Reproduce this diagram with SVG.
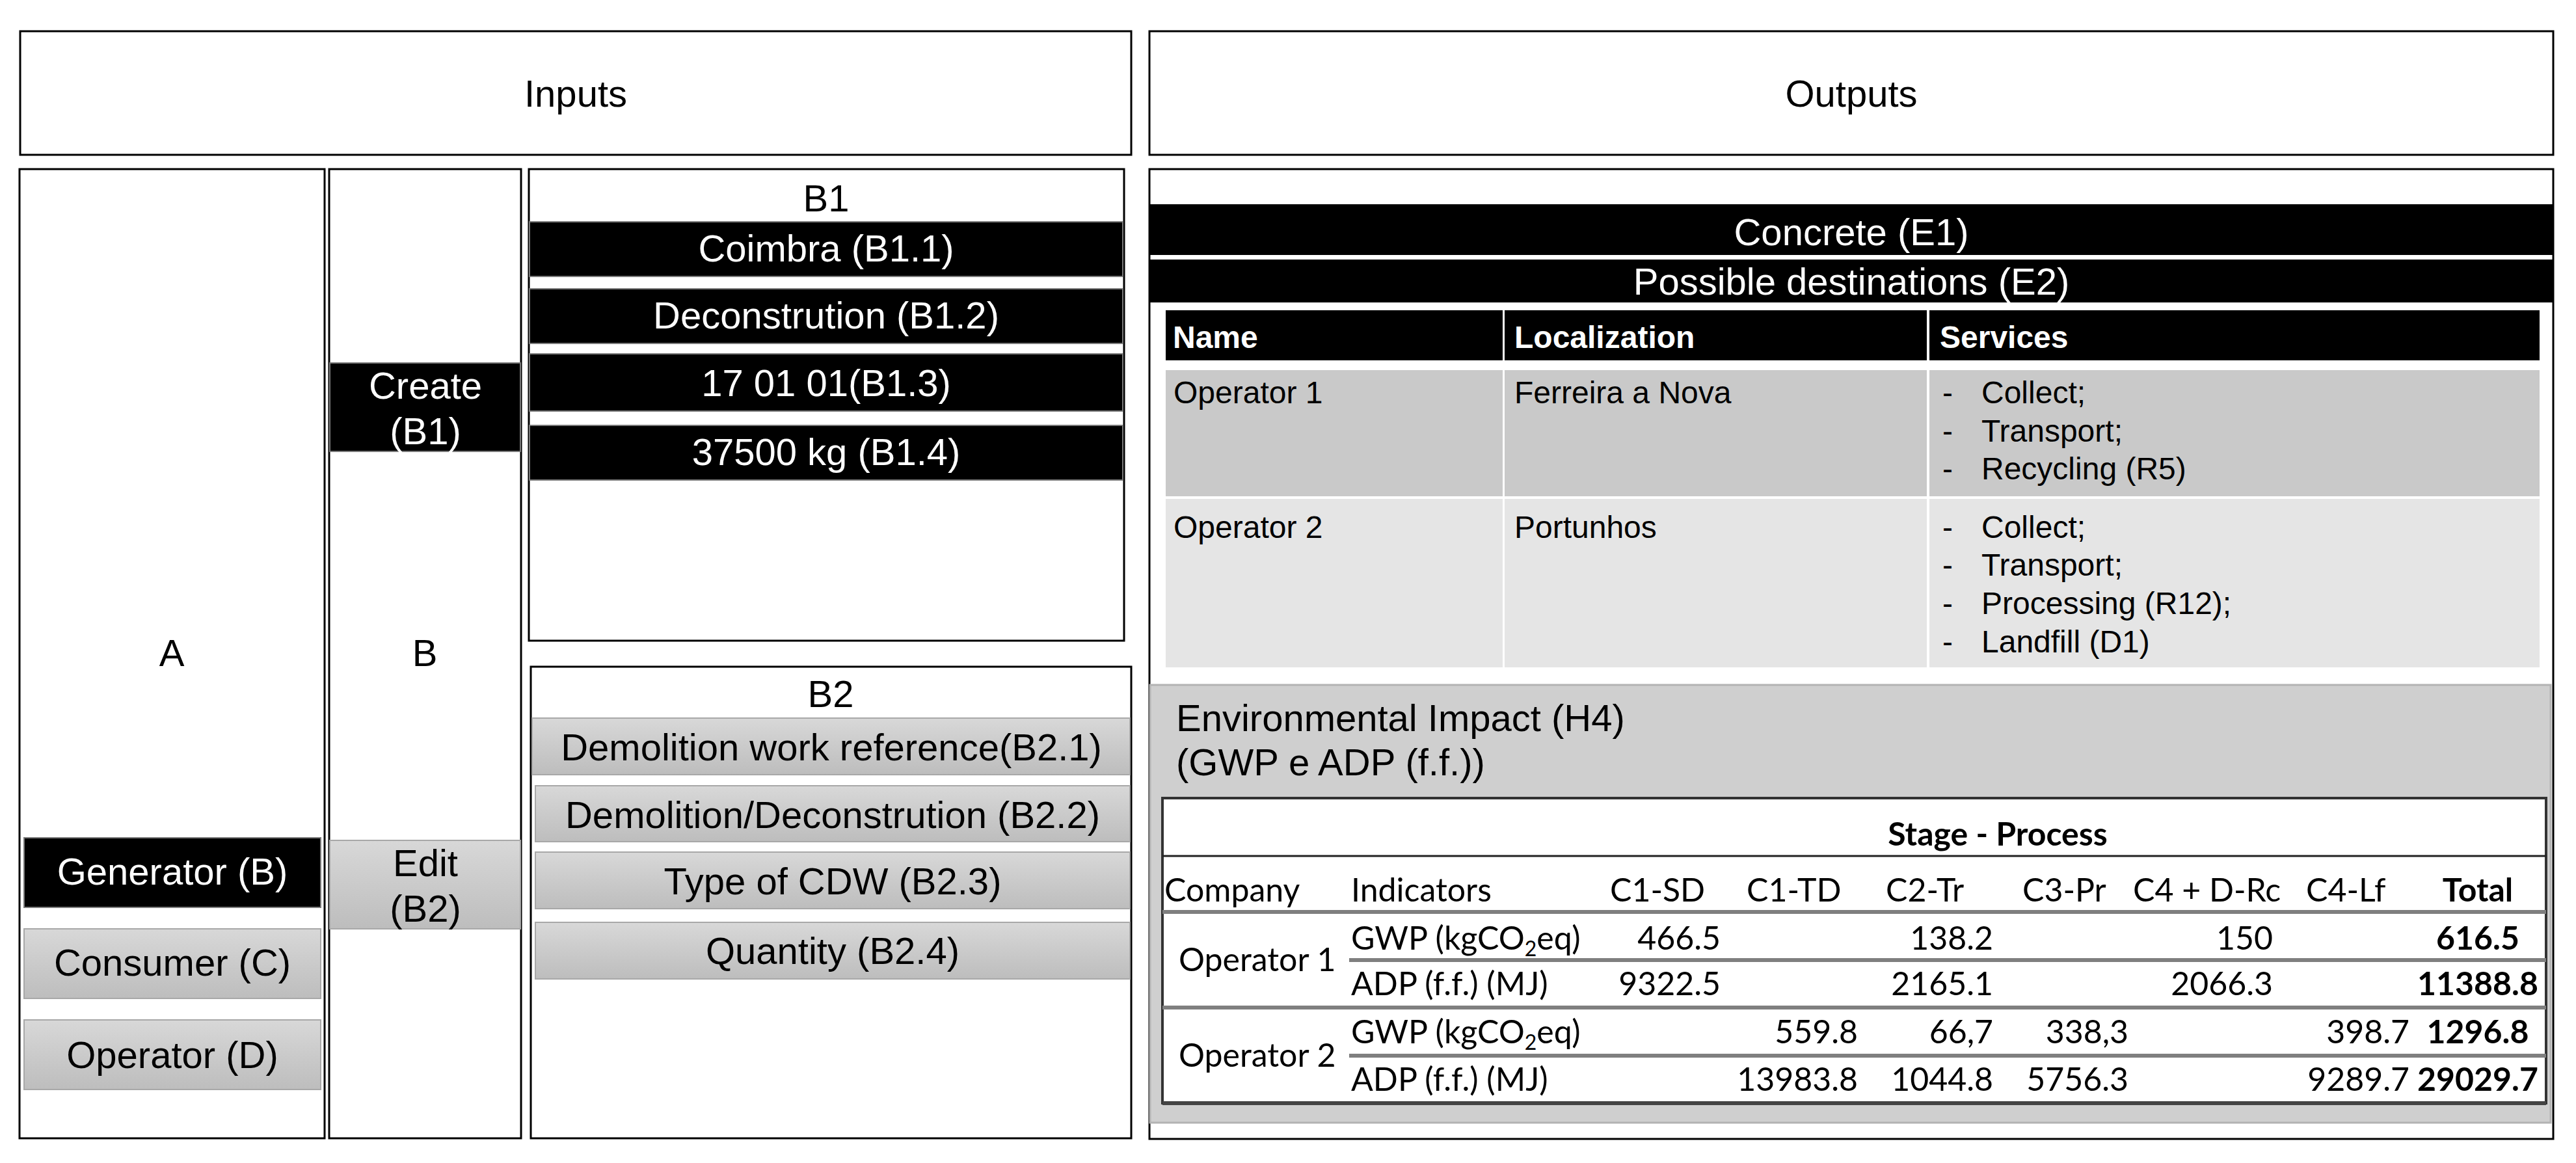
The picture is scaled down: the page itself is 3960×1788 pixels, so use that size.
<svg xmlns="http://www.w3.org/2000/svg" width="3960" height="1788" viewBox="0 0 3960 1788">
<defs>
<linearGradient id="gbar" x1="0" y1="0" x2="0" y2="1">
<stop offset="0" stop-color="#d8d8d8"/>
<stop offset="1" stop-color="#bdbdbd"/>
</linearGradient>
<style>
.box{fill:#fff;stroke:#000;stroke-width:3}
.blk{fill:#000;stroke:#7a7a7a;stroke-width:2}
.gry{fill:url(#gbar);stroke:#a8a8a8;stroke-width:2}
.t{font-family:"Liberation Sans",Arial,sans-serif;font-size:58px;fill:#000}
.s{font-size:48px}
.hb{font-weight:bold}
.w{fill:#fff}
.c{text-anchor:middle}
.e{text-anchor:end}
.tb{font-family:Lato,"Liberation Sans",sans-serif;font-size:50px;fill:#000}
.b{font-weight:bold}
.gl{stroke:#7f7f7f;stroke-width:6}
.dl{stroke:#222;stroke-width:3}
</style>
</defs>
<rect x="0" y="0" width="3960" height="1788" fill="#fff"/>

<g id="inputs">
<rect class="box" x="31" y="48" width="1708" height="190"/>
<text class="t c" x="885" y="164">Inputs</text>
</g>
<g id="outputs">
<rect class="box" x="1767" y="48" width="2158" height="190"/>
<text class="t c" x="2846" y="164">Outputs</text>
</g>

<g id="colA">
<rect class="box" x="30" y="260" width="469" height="1490"/>
<text class="t c" x="264" y="1024">A</text>
</g>
<g id="generator">
<rect class="blk" x="37" y="1288" width="456" height="107"/>
<text class="t c w" x="265" y="1360">Generator (B)</text>
</g>
<g id="consumer">
<rect class="gry" x="37" y="1428" width="456" height="107"/>
<text class="t c" x="265" y="1500">Consumer (C)</text>
</g>
<g id="operator">
<rect class="gry" x="37" y="1568" width="456" height="107"/>
<text class="t c" x="265" y="1642">Operator (D)</text>
</g>

<g id="colB">
<rect class="box" x="506" y="260" width="295" height="1490"/>
<text class="t c" x="653" y="1024">B</text>
</g>
<g id="create">
<rect class="blk" x="507" y="558" width="293" height="136"/>
<text class="t c w" x="654" y="613">Create</text>
<text class="t c w" x="654" y="683">(B1)</text>
</g>
<g id="edit">
<rect class="gry" x="507" y="1292" width="293" height="136"/>
<text class="t c" x="654" y="1347">Edit</text>
<text class="t c" x="654" y="1417">(B2)</text>
</g>

<g id="B1">
<rect class="box" x="813" y="260" width="915" height="725"/>
<text class="t c" x="1270" y="325">B1</text>
</g>
<g id="B1.1">
<rect class="blk" x="814" y="341" width="912" height="84"/>
<text class="t c w" x="1270" y="402">Coimbra (B1.1)</text>
</g>
<g id="B1.2">
<rect class="blk" x="814" y="444" width="912" height="84"/>
<text class="t c w" x="1270" y="505">Deconstrution  (B1.2)</text>
</g>
<g id="B1.3">
<rect class="blk" x="814" y="544" width="912" height="88"/>
<text class="t c w" x="1270" y="609">17 01 01(B1.3)</text>
</g>
<g id="B1.4">
<rect class="blk" x="814" y="654" width="912" height="84"/>
<text class="t c w" x="1270" y="715">37500 kg (B1.4)</text>
</g>

<g id="B2">
<rect class="box" x="816" y="1025" width="923" height="725"/>
<text class="t c" x="1277" y="1087">B2</text>
</g>
<g id="B2.1">
<rect class="gry" x="818" y="1104" width="919" height="87"/>
<text class="t c" x="1278" y="1169">Demolition work reference(B2.1)</text>
</g>
<g id="B2.2">
<rect class="gry" x="823" y="1208" width="914" height="86"/>
<text class="t c" x="1280" y="1273">Demolition/Deconstrution  (B2.2)</text>
</g>
<g id="B2.3">
<rect class="gry" x="823" y="1310" width="914" height="87"/>
<text class="t c" x="1280" y="1375">Type of CDW (B2.3)</text>
</g>
<g id="B2.4">
<rect class="gry" x="823" y="1418" width="914" height="87"/>
<text class="t c" x="1280" y="1482">Quantity  (B2.4)</text>
</g>

<g id="outputsPanel">
<rect class="box" x="1767" y="260" width="2158" height="1491"/>
</g>
<g id="E1">
<rect x="1768" y="314" width="2156" height="78" fill="#000"/>
<text class="t c w" x="2846" y="377">Concrete (E1)</text>
</g>
<g id="E2">
<rect x="1768" y="399" width="2156" height="66" fill="#000"/>
<text class="t c w" x="2846" y="453">Possible destinations (E2)</text>
</g>

<g id="destTable">
<rect x="1792" y="477" width="518" height="77" fill="#000"/>
<rect x="2313" y="477" width="649" height="77" fill="#000"/>
<rect x="2966" y="477" width="938" height="77" fill="#000"/>
<text class="t s hb w" x="1803" y="535">Name</text>
<text class="t s hb w" x="2328" y="535">Localization</text>
<text class="t s hb w" x="2982" y="535">Services</text>

<rect x="1792" y="569" width="518" height="194" fill="#c9c9c9"/>
<rect x="2313" y="569" width="649" height="194" fill="#c9c9c9"/>
<rect x="2966" y="569" width="938" height="194" fill="#c9c9c9"/>
<text class="t s" x="1804" y="620">Operator  1</text>
<text class="t s" x="2328" y="620">Ferreira  a Nova</text>
<text class="t s" x="2986" y="620">-</text><text class="t s" x="3046" y="620">Collect;</text>
<text class="t s" x="2986" y="679">-</text><text class="t s" x="3046" y="679">Transport;</text>
<text class="t s" x="2986" y="737">-</text><text class="t s" x="3046" y="737">Recycling (R5)</text>

<rect x="1792" y="767" width="518" height="259" fill="#e5e5e5"/>
<rect x="2313" y="767" width="649" height="259" fill="#e5e5e5"/>
<rect x="2966" y="767" width="938" height="259" fill="#e5e5e5"/>
<text class="t s" x="1804" y="827">Operator  2</text>
<text class="t s" x="2328" y="827">Portunhos</text>
<text class="t s" x="2986" y="827">-</text><text class="t s" x="3046" y="827">Collect;</text>
<text class="t s" x="2986" y="885">-</text><text class="t s" x="3046" y="885">Transport;</text>
<text class="t s" x="2986" y="944">-</text><text class="t s" x="3046" y="944">Processing (R12);</text>
<text class="t s" x="2986" y="1003">-</text><text class="t s" x="3046" y="1003">Landfill  (D1)</text>
</g>

<g id="H4">
<rect x="1768" y="1053" width="2153" height="673" fill="#cfcfcf" stroke="#b3b3b3" stroke-width="3"/>
<text class="t" x="1808" y="1124">Environmental  Impact  (H4)</text>
<text class="t" x="1808" y="1192">(GWP e ADP (f.f.))</text>
<rect x="1787" y="1227" width="2127" height="469" fill="#fff" stroke="#333" stroke-width="4"/>
</g>

<g id="connectors">
<line class="dl" x1="1787" y1="1316" x2="3914" y2="1316"/>
<line class="gl" x1="1787" y1="1402" x2="3914" y2="1402"/>
<line class="gl" x1="2074" y1="1476" x2="3914" y2="1476"/>
<line class="gl" x1="1787" y1="1549" x2="3914" y2="1549"/>
<line class="gl" x1="2074" y1="1623" x2="3914" y2="1623"/>
<line x1="1787" y1="1696" x2="3914" y2="1696" stroke="#444" stroke-width="6"/>
</g>

<g id="impactTable">
<text class="tb b c" x="3071" y="1300">Stage - Process</text>
<text class="tb" x="1790" y="1386">Company</text>
<text class="tb" x="2077" y="1386">Indicators</text>
<text class="tb" x="2475" y="1386">C1-SD</text>
<text class="tb" x="2685" y="1386">C1-TD</text>
<text class="tb" x="2899" y="1386">C2-Tr</text>
<text class="tb" x="3109" y="1386">C3-Pr</text>
<text class="tb" x="3279" y="1386">C4 + D-Rc</text>
<text class="tb" x="3545" y="1386">C4-Lf</text>
<text class="tb b c" x="3809" y="1386">Total</text>

<text class="tb" x="1812" y="1493">Operator 1</text>
<text class="tb" x="2077" y="1460">GWP (kgCO<tspan font-size="32" dy="10">2</tspan><tspan dy="-10">eq)</tspan></text>
<text class="tb e" x="2645" y="1460">466.5</text>
<text class="tb e" x="3064" y="1460">138.2</text>
<text class="tb e" x="3494" y="1460">150</text>
<text class="tb b c" x="3809" y="1460">616.5</text>
<text class="tb" x="2077" y="1530">ADP (f.f.) (MJ)</text>
<text class="tb e" x="2645" y="1530">9322.5</text>
<text class="tb e" x="3064" y="1530">2165.1</text>
<text class="tb e" x="3494" y="1530">2066.3</text>
<text class="tb b c" x="3809" y="1530">11388.8</text>

<text class="tb" x="1812" y="1640">Operator 2</text>
<text class="tb" x="2077" y="1604">GWP (kgCO<tspan font-size="32" dy="10">2</tspan><tspan dy="-10">eq)</tspan></text>
<text class="tb e" x="2856" y="1604">559.8</text>
<text class="tb e" x="3064" y="1604">66,7</text>
<text class="tb e" x="3272" y="1604">338,3</text>
<text class="tb e" x="3704" y="1604">398.7</text>
<text class="tb b c" x="3809" y="1604">1296.8</text>
<text class="tb" x="2077" y="1677">ADP (f.f.) (MJ)</text>
<text class="tb e" x="2856" y="1677">13983.8</text>
<text class="tb e" x="3064" y="1677">1044.8</text>
<text class="tb e" x="3272" y="1677">5756.3</text>
<text class="tb e" x="3704" y="1677">9289.7</text>
<text class="tb b c" x="3809" y="1677">29029.7</text>
</g>
</svg>
